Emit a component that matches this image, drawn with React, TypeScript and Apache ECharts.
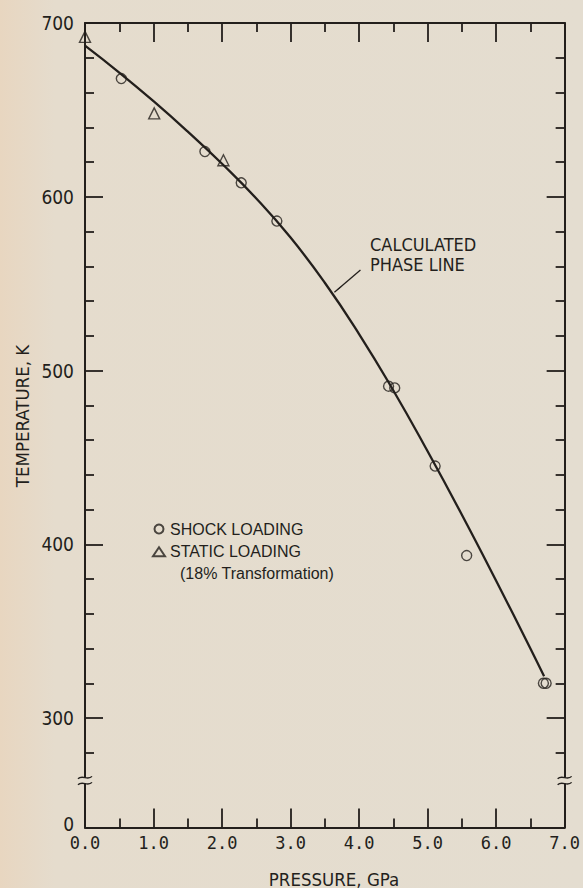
import React, { useEffect, useRef } from "react";
import * as echarts from "echarts";

// ---- data ----
const pressureRange = [0, 7];
const tempRange = [237, 700];
const tempMajorTicks = [300, 400, 500, 600, 700];
const tempMinorTicks = [280, 320, 340, 360, 380, 420, 440, 460, 480, 520, 540, 560, 580, 620, 640, 660, 680];
const tempLabelValues = [239, 300, 400, 500, 600, 700]; // 239 is drawn as "0" (below the axis break)

const shockP = [0.53, 1.75, 2.28, 2.8, 4.43, 4.52, 5.11, 5.57, 6.69, 6.73];
const shockT = [668, 626, 608, 586, 491, 490, 445, 393.5, 320, 320];

const staticP = [0.0, 1.01, 2.02];
const staticT = [692, 648, 621];

const phaseP = [0, 0.5, 1.0, 1.5, 2.0, 2.5, 3.0, 3.5, 4.0, 4.5, 5.0, 5.5, 6.0, 6.5, 6.7];
const phaseT = [687, 671.5, 655, 637.5, 619, 599, 576.5, 550.5, 521, 488.5, 453.5, 417, 379, 340, 324];

const arrowFrom = [4.02, 557.8];
const arrowTo = [3.64, 545];
const breakTemp = 264;

const INK = "#231f1c";
const BG = "#e4ddcf";
const NARROW = '"Liberation Sans Narrow", "DejaVu Sans Condensed", "Liberation Sans", sans-serif';
const SANS = '"Liberation Sans", Arial, sans-serif';
const MONO = '"DejaVu Sans Mono", monospace';

export default function App() {
  const ref = useRef<HTMLDivElement>(null);

  useEffect(() => {
    if (!ref.current) return;
    const chart = echarts.init(ref.current, undefined, { renderer: "svg" });
    const line = { color: INK, width: 2 };
    const tickLine = { color: INK, width: 1.8 };

    const xBase = (position: string, labels: boolean) => ({
      type: "value",
      position,
      min: pressureRange[0],
      max: pressureRange[1],
      interval: 1,
      axisLine: { show: true, onZero: false, lineStyle: line },
      axisTick: { show: true, inside: true, length: 19, lineStyle: tickLine },
      minorTick: { show: true, splitNumber: 2, length: 9, lineStyle: tickLine },
      splitLine: { show: false },
      minorSplitLine: { show: false },
      axisLabel: labels
        ? {
            show: true,
            margin: 7,
            color: INK,
            fontFamily: MONO,
            fontSize: 17,
            formatter: (v: number) => v.toFixed(1),
          }
        : { show: false },
    });

    const yBase = (position: string, major: boolean, labels: boolean) => ({
      type: "value",
      position,
      min: tempRange[0],
      max: tempRange[1],
      axisLine: { show: major, onZero: false, lineStyle: line },
      axisTick: {
        show: true,
        inside: true,
        length: major ? 18 : 9,
        customValues: major ? tempMajorTicks : tempMinorTicks,
        lineStyle: tickLine,
      },
      splitLine: { show: false },
      axisLabel: labels
        ? {
            show: true,
            customValues: tempLabelValues,
            margin: 11,
            color: INK,
            fontFamily: NARROW,
            fontSize: 19,
            formatter: (v: number) => (v < 250 ? "0" : String(v)),
          }
        : { show: false },
    });

    const option: any = {
      animation: false,
      backgroundColor: "transparent",
      grid: { left: 85, top: 23, width: 488, height: 804.5 },
      xAxis: [xBase("bottom", true), xBase("top", false)],
      yAxis: [
        yBase("left", true, true),
        yBase("left", false, false),
        yBase("right", true, false),
        yBase("right", false, false),
      ],
      legend: {
        show: true,
        orient: "vertical",
        left: 152,
        top: 520,
        itemWidth: 12,
        itemHeight: 9,
        itemGap: 4.7,
        padding: 0,
        selectedMode: false,
        textStyle: { fontFamily: SANS, fontSize: 16, color: INK, lineHeight: 18 },
        data: ["SHOCK LOADING", "STATIC LOADING"],
      },
      series: [
        {
          type: "line",
          name: "CALCULATED PHASE LINE",
          xAxisIndex: 0,
          yAxisIndex: 0,
          data: phaseP.map((p, i) => [p, phaseT[i]]),
          smooth: true,
          showSymbol: false,
          lineStyle: { color: INK, width: 2.3 },
          markLine: {
            silent: true,
            symbol: ["none", "arrow"],
            symbolSize: [1, 9],
            label: { show: false },
            lineStyle: { color: INK, width: 1.3, type: "solid" },
            data: [[{ coord: arrowFrom }, { coord: arrowTo }]],
          },
        },
        {
          type: "scatter",
          name: "SHOCK LOADING",
          xAxisIndex: 0,
          yAxisIndex: 0,
          symbol: "circle",
          symbolSize: 10,
          data: shockP.map((p, i) => [p, shockT[i]]),
          itemStyle: { color: "rgba(0,0,0,0)", borderColor: INK, borderWidth: 1.4 },
          z: 3,
        },
        {
          type: "scatter",
          name: "STATIC LOADING",
          xAxisIndex: 0,
          yAxisIndex: 0,
          symbol: "triangle",
          symbolSize: 11,
          data: staticP.map((p, i) => [p, staticT[i]]),
          itemStyle: { color: "rgba(0,0,0,0)", borderColor: INK, borderWidth: 1.4 },
          z: 3,
        },
      ],
    };
    chart.setOption(option);

    const xl = chart.convertToPixel({ xAxisIndex: 0 }, pressureRange[0]) as number;
    const xr = chart.convertToPixel({ xAxisIndex: 0 }, pressureRange[1]) as number;
    const yb = chart.convertToPixel({ yAxisIndex: 0 }, breakTemp) as number;

    const breakMark = (ax: number) => [
      {
        type: "rect",
        shape: { x: ax - 7, y: yb - 3, width: 14, height: 6 },
        style: { fill: BG },
        z: 10,
      },
      ...[-3, 3].map((dy) => ({
        type: "bezierCurve",
        shape: {
          x1: ax - 7,
          y1: yb + dy + 1.2,
          cpx1: ax - 2.5,
          cpy1: yb + dy - 3.5,
          cpx2: ax + 2.5,
          cpy2: yb + dy + 3.5,
          x2: ax + 7,
          y2: yb + dy - 1.2,
        },
        style: { stroke: INK, lineWidth: 1.4, fill: null },
        z: 11,
      })),
    ];

    const txt = (text: string, x: number, y: number, font: string, size: number, align = "left", rotation = 0) => ({
      type: "text",
      x,
      y,
      rotation,
      style: {
        text,
        fill: INK,
        fontFamily: font,
        fontSize: size,
        align,
        textAlign: align,
        verticalAlign: "middle",
        textVerticalAlign: "middle",
      },
      z: 12,
    });

    chart.setOption({
      graphic: [
        ...breakMark(xl),
        ...breakMark(xr),
        txt("CALCULATED", 370, 244, NARROW, 18),
        txt("PHASE LINE", 370, 264, NARROW, 18),
        txt("(18% Transformation)", 180, 573, SANS, 16),
        txt("PRESSURE, GPa", 334, 879, NARROW, 18.5, "center"),
        txt("TEMPERATURE, K", 22, 416, NARROW, 18.5, "center", Math.PI / 2),
      ],
    });

    return () => chart.dispose();
  }, []);

  return (
    <div
      style={{
        position: "absolute",
        left: 0,
        top: 0,
        width: 583,
        height: 888,
        background: "linear-gradient(90deg, #e8d6c0 0px, #e5dccd 55px, #e4ddd0 583px)",
      }}
    >
      <div ref={ref} style={{ width: 583, height: 888 }} />
    </div>
  );
}
